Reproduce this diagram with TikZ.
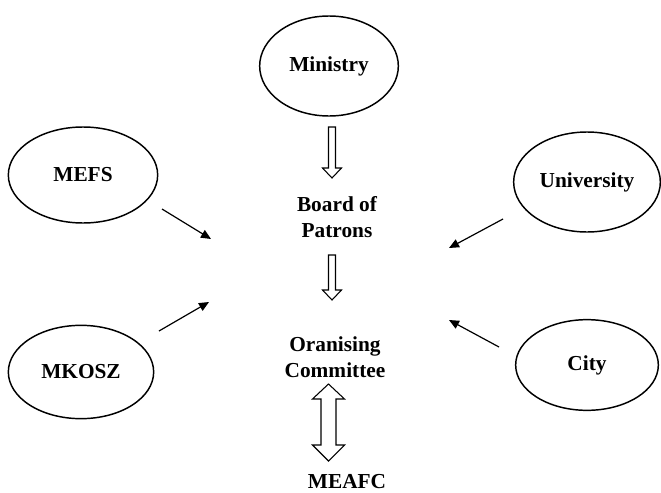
\documentclass[tikz,border=0pt]{standalone}
\usepackage{fontspec}
\setmainfont{Liberation Serif}
\usepackage{tikz}
\usetikzlibrary{arrows.meta,positioning,shapes.geometric}

\begin{document}
\begin{tikzpicture}[x=0.75pt,y=-0.75pt,
  party/.style={draw,ellipse,inner sep=0pt,line width=1.1pt,font=\fontsize{16}{19.5}\selectfont\bfseries},
  body/.style={align=center,inner sep=0pt,font=\fontsize{16}{19.5}\selectfont\bfseries},
  arr/.style={-{Triangle[length=7.5pt,width=6.5pt]},line width=0.9pt},
  blockarr/.style={draw,line width=0.8pt,line join=miter}
]
\useasboundingbox (0,0) rectangle (661,493);

% Parties (ellipses)
\node[party,minimum width=104pt,minimum height=75pt] (ministry) at (329,66) {Ministry};
\node[party,minimum width=112pt,minimum height=72pt] (mefs) at (83,175) {MEFS};
\node[party,minimum width=110pt,minimum height=75pt] (univ) at (587,182) {University};
\node[party,minimum width=109pt,minimum height=70pt] (mkosz) at (81,372) {MKOSZ};
\node[party,minimum width=107pt,minimum height=68pt] (city) at (587,365) {City};

% Bodies (centre column)
\node[body] (board) at (337,217) {Board of\\Patrons};
\node[body] (orgcom) at (335,357) {Oranising\\Committee};
\node[body] (meafc) at (347,482) {MEAFC};

% Block arrows
\coordinate (b1) at (332,127);
\coordinate (b2) at (332,255);
\coordinate (b3) at (328.5,384);
\draw[blockarr] (b1) ++(-3.5,0) -- ++(0,41) -- ++(-6,0) -- ++(9.5,10) -- ++(9.5,-10) -- ++(-6,0) -- ++(0,-41) -- cycle;
\draw[blockarr] (b2) ++(-3.5,0) -- ++(0,35) -- ++(-6,0) -- ++(9.5,10) -- ++(9.5,-10) -- ++(-6,0) -- ++(0,-35) -- cycle;
\draw[blockarr] (b3) -- ++(16,15) -- ++(-8.5,0) -- ++(0,46) -- ++(8.5,0) -- ++(-16,16) -- ++(-16,-16) -- ++(8.5,0) -- ++(0,-46) -- ++(-8.5,0) -- cycle;

% Arrows towards the centre
\coordinate (mefsout) at (162,209);
\coordinate (mefsin) at (211,239);
\coordinate (mkoszout) at (159,331);
\coordinate (mkoszin) at (209,302);
\coordinate (univout) at (503,219);
\coordinate (univin) at (449,248);
\coordinate (cityout) at (499,347);
\coordinate (cityin) at (449,320);

\draw[arr] (mefsout) -- (mefsin);
\draw[arr] (mkoszout) -- (mkoszin);
\draw[arr] (univout) -- (univin);
\draw[arr] (cityout) -- (cityin);

\end{tikzpicture}
\end{document}
